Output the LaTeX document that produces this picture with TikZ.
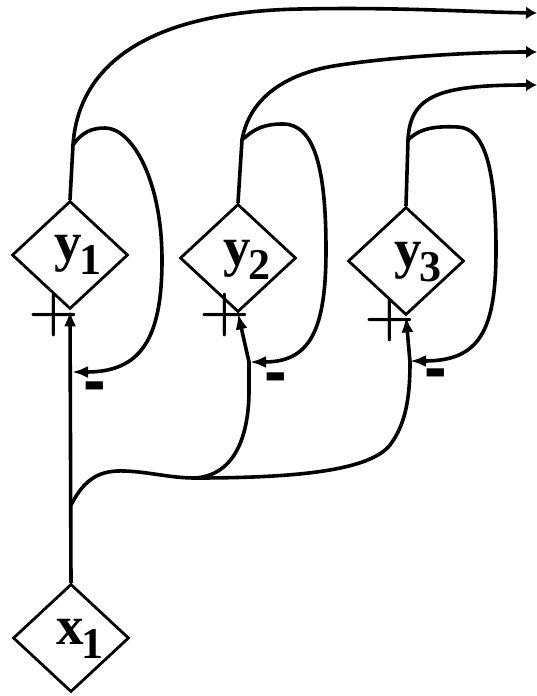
\documentclass[tikz,border=0pt]{standalone}
\usepackage{fontspec}
\newfontfamily\minusfont{Liberation Sans}
\newfontfamily\labfont{Liberation Serif}
\usetikzlibrary{shapes.geometric,arrows.meta}
\begin{document}
\begin{tikzpicture}[x=1pt,y=-1pt,
  dia/.style={diamond,draw,line width=2.8pt,inner sep=0pt,minimum width=116pt,minimum height=108pt},
  wire/.style={line width=3.6pt,line cap=round},
  tip/.style={-{Latex[length=16pt,width=12pt]}},
  otip/.style={-{Latex[length=11pt,width=13pt]}},
  lab/.style={inner sep=0pt,font=\fontsize{55}{55}\selectfont\labfont\bfseries},
  plus/.style={inner sep=0pt,font=\fontsize{58}{58}\selectfont\bfseries},
  minus/.style={inner sep=0pt,font=\fontsize{68}{68}\selectfont\minusfont\bfseries}]
\useasboundingbox (0,0) rectangle (537,696);
% diamonds
\node[dia] (y1) at (70,255) {};
\node[dia] (y2) at (238,258) {};
\node[dia] (y3) at (406,261) {};
\node[dia] (x1) at (71,638) {};
\node[lab] (ty1) at (78,255) {y\kern-3pt\raisebox{-14pt}{\fontsize{44}{44}\selectfont 1}};
\node[lab] (ty2) at (247,260) {y\kern-3pt\raisebox{-14pt}{\fontsize{44}{44}\selectfont 2}};
\node[lab] (ty3) at (418,262) {y\kern-3pt\raisebox{-14pt}{\fontsize{44}{44}\selectfont 3}};
\node[lab] (tx1) at (80,639) {x\kern-3pt\raisebox{-14pt}{\fontsize{44}{44}\selectfont 1}};
% coordinates
\coordinate (b0) at (71,505);
\coordinate (j) at (195,478);
\coordinate (s1) at (73,145);
\coordinate (s2) at (242,140);
\coordinate (s3) at (408,140);
\coordinate (f1) at (72,372);
\coordinate (f2) at (250,362);
\coordinate (f3) at (410,361);
\coordinate (o1) at (537,13);
\coordinate (o2) at (537,52);
\coordinate (o3) at (537,85);
\coordinate (v2) at (249,362);
\coordinate (v3) at (410,362);
% input lines
\draw[wire,tip] (x1.north) -- (y1.south);
\draw[wire] (b0) .. controls (85,478) and (100,470) .. (125,471) .. controls (150,472) and (170,478) .. (j);
\draw[wire] (j) .. controls (238,475) and (249,430) .. (249,390) -- (v2);
\draw[wire,tip] (v2) -- (y2.south);
\draw[wire] (j) .. controls (300,478) and (370,470) .. (390,445) .. controls (405,425) and (410,400) .. (v3);
\draw[wire,tip] (v3) -- (y3.south);
% outputs
\draw[wire] (y1.north) -- (s1);
\draw[wire] (y2.north) -- (s2);
\draw[wire] (y3.north) -- (s3);
\draw[wire,otip] (s1) .. controls (78,70) and (140,12) .. (300,9) .. controls (400,7) and (470,12) .. (o1);
\draw[wire,otip] (s2) .. controls (250,95) and (290,72) .. (340,65) .. controls (400,56) and (480,52) .. (o2);
\draw[wire,otip] (s3) .. controls (410,95) and (440,85) .. (o3);
% feedback loops
\draw[wire,tip] (s1) .. controls (82,132) and (92,128) .. (105,128) .. controls (132,128) and (162,180) .. (162,260) .. controls (162,340) and (140,372) .. (f1);
\draw[wire,tip] (s2) .. controls (255,128) and (265,124) .. (283,124) .. controls (315,124) and (326,170) .. (326,250) .. controls (326,330) and (310,362) .. (f2);
\draw[wire,tip] (s3) .. controls (420,128) and (435,126) .. (458,127) .. controls (485,128) and (496,170) .. (496,250) .. controls (496,330) and (480,361) .. (f3);
% signs
\node[plus] (p1) at (54,315) {+};
\node[plus] (p2) at (225,315) {+};
\node[plus] (p3) at (390,320) {+};
\node[minus] (m1) at (95,393) {-};
\node[minus] (m2) at (276,384) {-};
\node[minus] (m3) at (436,380) {-};
\end{tikzpicture}
\end{document}
